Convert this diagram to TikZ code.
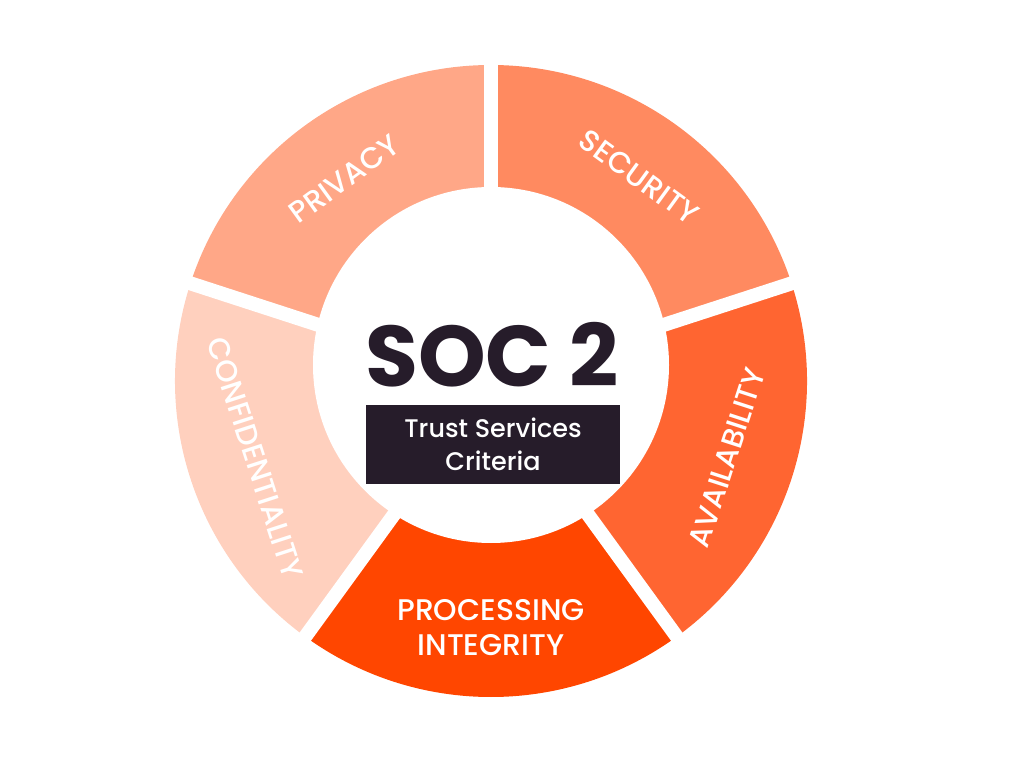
\documentclass[tikz,border=0pt]{standalone}
\usepackage{fontspec}
\setmainfont{Poppins}
\newfontfamily\medfont{Poppins Medium}
\usetikzlibrary{positioning,calc}
\definecolor{secColor}{HTML}{FF8A60}
\definecolor{avaColor}{HTML}{FF6531}
\definecolor{proColor}{HTML}{FF4600}
\definecolor{conColor}{HTML}{FFD0BE}
\definecolor{priColor}{HTML}{FFA787}
\definecolor{darkInk}{HTML}{261C2A}

\begin{document}
\begin{tikzpicture}[x=0.02cm,y=0.02cm,
    seglabel/.style={text=white,font=\medfont\fontsize{17}{20}\selectfont,align=center,inner sep=0pt}]
    % canvas
    \useasboundingbox (0,0) rectangle (1024,758);
    \coordinate (outerC) at (491,377);
    \coordinate (innerC) at (491,393);

    % ring sectors
    \foreach \a/\col in {18/secColor,-54/avaColor,-126/proColor,162/conColor,90/priColor}{
        \fill[\col] (outerC) -- ++(\a:316) arc[start angle=\a,end angle=\a+72,radius=316] -- cycle;
    }
    \fill[white] (innerC) circle (178);

    % gaps
    \foreach \a in {90,18,-54,-126,162}{
        \draw[white,line width=0.28cm] (outerC) -- ++(\a:330);
    }

    % labels
    \node[seglabel,rotate=-36] (security) at ($(outerC)+(54:252)$) {SECURITY};
    \node[seglabel,rotate=36] (privacy) at ($(outerC)+(126:250)$) {PRIVACY};
    \node[seglabel,rotate=72] (availability) at ($(outerC)+(-18:248)$) {AVAILABILITY};
    \node[seglabel,rotate=-72] (confidentiality) at ($(outerC)+(198:248)$) {CONFIDENTIALITY};
    \node[seglabel] (processing) at ($(outerC)+(-90:247)$) {PROCESSING\\INTEGRITY};

    % centre
    \node[font=\fontsize{49}{52}\selectfont\bfseries,text=darkInk,inner sep=0pt] (soc) at (492,403) {SOC 2};
    \node[fill=darkInk,text=white,minimum width=254*0.02cm,minimum height=79*0.02cm,
          font=\medfont\fontsize{14.5}{19}\selectfont,align=center] (tsc) at (493,314) {Trust Services\\Criteria};
\end{tikzpicture}
\end{document}
